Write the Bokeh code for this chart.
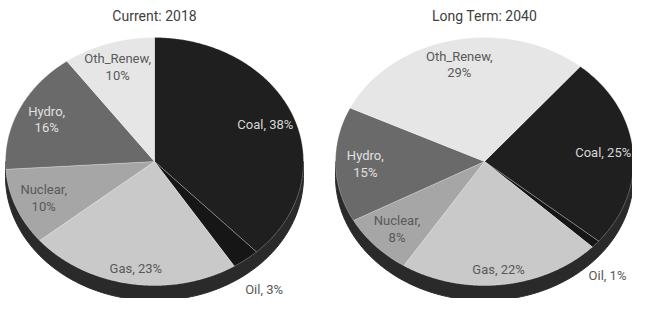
import numpy as np
from bokeh.plotting import figure
from bokeh.models import ColumnDataSource, Range1d
from bokeh.core.properties import value
from bokeh.embed import file_html
from bokeh.resources import INLINE

# ---------------- data ----------------
categories = ["Coal", "Oil", "Gas", "Nuclear", "Hydro", "Oth_Renew"]
current_2018 = [38, 3, 23, 10, 16, 10]
long_term_2040 = [25, 1, 22, 8, 15, 29]
titles = ["Current: 2018", "Long Term: 2040"]

# ---------------- style ----------------
slice_colors = ["#1f1f1f", "#161616", "#c9c9c9", "#a6a6a6", "#6a6a6a", "#e6e6e6"]
label_colors = ["#d6d6d6", "#595959", "#595959", "#595959", "#e0e0e0", "#595959"]
FONT = "Roboto"

W, H = 632, 298
X0, Y0 = 8, 8
p = figure(width=W, height=H, x_range=Range1d(X0, X0 + W), y_range=Range1d(Y0 + H, Y0),
           output_backend="svg", toolbar_location=None, min_border=0,
           x_axis_type=None, y_axis_type=None)
p.grid.visible = False
p.outline_line_color = None
p.background_fill_color = "white"

RX, RY, DEPTH = 149, 124, 15
CY = 169
pies = [dict(cx=162, vals=current_2018, start=0, title=titles[0]),
        dict(cx=492, vals=long_term_2040, start=40, title=titles[1])]


def pt(cx, cy, ang, f=1.0):
    r = np.radians(ang)
    return cx + f * RX * np.sin(r), cy - f * RY * np.cos(r)


for pie in pies:
    cx = pie["cx"]
    vals = np.array(pie["vals"], dtype=float)
    frac = vals / vals.sum()
    edges = pie["start"] + 360 * np.concatenate([[0], np.cumsum(frac)])

    # 3D side band (front half of the cylinder)
    t = np.linspace(90, 270, 120)
    bx, by = pt(cx, CY + DEPTH, t)
    tx, ty = pt(cx, CY, t[::-1])
    p.patch(list(bx) + list(tx), list(by) + list(ty), fill_color="#2a2a2a",
            line_color="#2a2a2a", line_width=1)

    xs, ys = [], []
    for a0, a1 in zip(edges[:-1], edges[1:]):
        tt = np.linspace(a0, a1, max(4, int(a1 - a0) * 2))
        x, y = pt(cx, CY, tt)
        xs.append([cx] + list(x))
        ys.append([CY] + list(y))
    p.patches(xs, ys, fill_color=slice_colors, line_color="white", line_alpha=0.3,
              line_width=0.8)

    # labels
    lx, ly, txt, col = [], [], [], []
    for i, (name, v) in enumerate(zip(categories, pie["vals"])):
        mid = (edges[i] + edges[i + 1]) / 2
        inside = v >= 5
        x, y = pt(cx, CY, mid, 0.8 if inside else 1.2)
        if not inside:
            y = min(y + DEPTH, Y0 + H - 9)
            x = min(x, X0 + W - 25)
        elif np.cos(np.radians(mid)) < -0.9:
            y += DEPTH * 0.6
        lx.append(x)
        ly.append(y)
        sep = ",\n" if len(name) > 4 else ", "
        txt.append(f"{name}{sep}{v}%")
        col.append(label_colors[i] if inside else "#595959")
    src = ColumnDataSource(dict(x=lx, y=ly, text=txt, color=col))
    p.text("x", "y", text="text", source=src, text_color="color",
           text_font=value(FONT), text_font_size="13px", text_align="center",
           text_baseline="middle", text_line_height=1.1)

    p.text([cx], [23], text=[pie["title"]], text_color="#404040",
           text_font=value(FONT), text_font_size="14px", text_align="center",
           text_baseline="middle")

open("out.html", "w").write(file_html(p, INLINE))
